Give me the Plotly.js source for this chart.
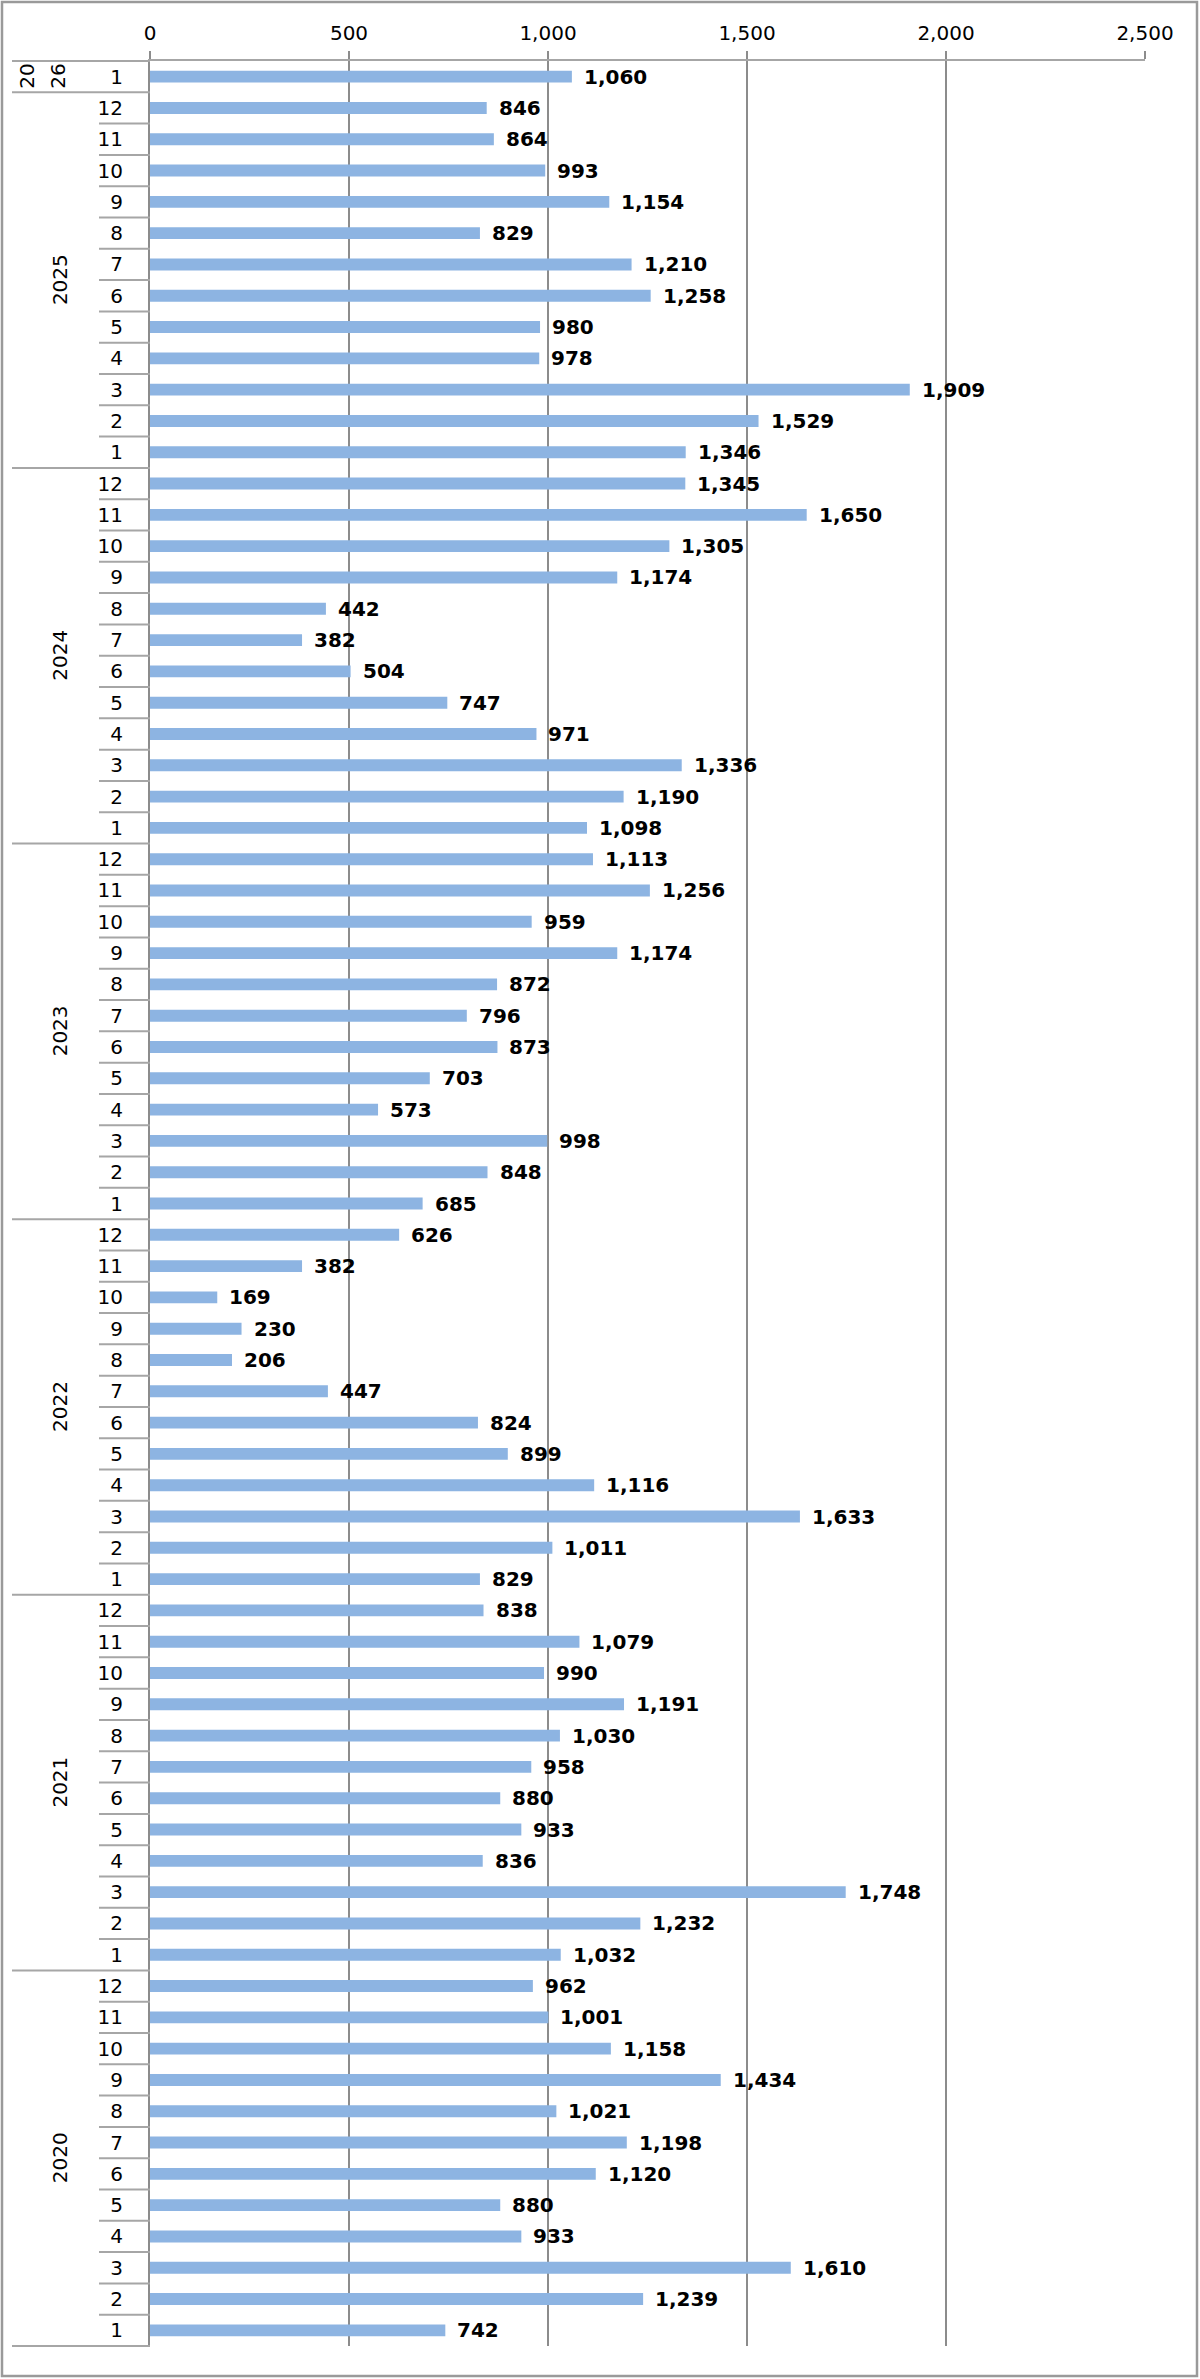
<!DOCTYPE html>
<html>
<head>
<meta charset="utf-8">
<script src="https://cdn.plot.ly/plotly-3.0.1.min.js"></script>
<style>
html,body{margin:0;padding:0;background:#fff;}
#chart{width:1200px;height:2379px;}
</style>
</head>
<body>
<div id="chart"></div>
<script>
// ---- data (values per month, January .. December) ----
const years = ['2026', '2025', '2024', '2023', '2022', '2021', '2020'];
const y2026 = [1060];
const y2025 = [1346, 1529, 1909, 978, 980, 1258, 1210, 829, 1154, 993, 864, 846];
const y2024 = [1098, 1190, 1336, 971, 747, 504, 382, 442, 1174, 1305, 1650, 1345];
const y2023 = [685, 848, 998, 573, 703, 873, 796, 872, 1174, 959, 1256, 1113];
const y2022 = [829, 1011, 1633, 1116, 899, 824, 447, 206, 230, 169, 382, 626];
const y2021 = [1032, 1232, 1748, 836, 933, 880, 958, 1030, 1191, 990, 1079, 838];
const y2020 = [742, 1239, 1610, 933, 880, 1120, 1198, 1021, 1434, 1158, 1001, 962];
const xTicks = [0, 500, 1000, 1500, 2000, 2500];

const series = [y2026, y2025, y2024, y2023, y2022, y2021, y2020];

// ---- build rows (top to bottom: newest month first) ----
const ys = [], xs = [], tickText = [], groups = [];
let idx = 0;
series.forEach((arr, g) => {
  const start = idx;
  for (let m = arr.length; m >= 1; m--) {
    ys.push(idx);
    xs.push(arr[m - 1]);
    tickText.push(String(m));
    idx++;
  }
  groups.push({year: years[g], start: start, end: idx - 1});
});
const N = idx;

// ---- geometry helpers ----
const W = 1200, H = 2379;
const mL = 150, mR = 55, mT = 61, mB = 33;
const pw = W - mL - mR, ph = H - mT - mB;
const px2paperX = p => (p - mL) / pw;
const py2paperY = p => (H - mB - p) / ph;
const row2paperY = r => (N - 0.5 - r) / N;

const sepColor = '#a6a6a6';
const font = 'DejaVu Sans, Verdana, sans-serif';

const shapes = [];
const annotations = [];

// outer border
shapes.push({type: 'rect', xref: 'paper', yref: 'paper',
  x0: px2paperX(2), x1: px2paperX(1197), y0: py2paperY(2376), y1: py2paperY(2),
  line: {color: '#9a9a9a', width: 2.5}, fillcolor: 'rgba(0,0,0,0)'});

function yearLabel(text, xpx, yc) {
  annotations.push({xref: 'paper', yref: 'paper', x: px2paperX(xpx), y: yc,
    xanchor: 'center', yanchor: 'middle',
    text: text, textangle: -90, showarrow: false,
    font: {family: font, size: 20, color: '#000'}});
}

groups.forEach(gr => {
  // year separator at top of the group
  shapes.push({type: 'line', xref: 'paper', yref: 'paper',
    x0: px2paperX(12), x1: px2paperX(150), y0: row2paperY(gr.start - 0.5), y1: row2paperY(gr.start - 0.5),
    line: {color: sepColor, width: 2}});
  // month separators
  for (let r = gr.start; r < gr.end; r++) {
    shapes.push({type: 'line', xref: 'paper', yref: 'paper',
      x0: px2paperX(99), x1: px2paperX(150), y0: row2paperY(r + 0.5), y1: row2paperY(r + 0.5),
      line: {color: sepColor, width: 2}});
  }
  // year labels
  const yc = row2paperY((gr.start + gr.end) / 2);
  if (gr.end - gr.start < 2) {
    yearLabel(gr.year.slice(0, 2), 27, yc);
    yearLabel(gr.year.slice(2), 58, yc);
  } else {
    yearLabel(gr.year, 60, yc);
  }
});
// bottom separator
shapes.push({type: 'line', xref: 'paper', yref: 'paper',
  x0: px2paperX(12), x1: px2paperX(150), y0: row2paperY(N - 0.5), y1: row2paperY(N - 0.5),
  line: {color: sepColor, width: 2}});

// value labels
xs.forEach((v, i) => {
  annotations.push({xref: 'x', yref: 'y', x: v, y: ys[i], xanchor: 'left', yanchor: 'middle',
    xshift: 10, showarrow: false, text: '<b>' + v.toLocaleString('en-US') + '</b>',
    font: {family: font, size: 20, color: '#000'}});
});

const trace = {
  type: 'bar', orientation: 'h', x: xs, y: ys,
  marker: {color: '#8DB4E2', line: {width: 0}},
  hoverinfo: 'x'
};

const layout = {
  width: W, height: H,
  margin: {l: mL, r: mR, t: mT, b: mB, pad: 0},
  paper_bgcolor: '#fff', plot_bgcolor: '#fff',
  showlegend: false,
  bargap: 0.62,
  font: {family: font, size: 20, color: '#000'},
  xaxis: {
    side: 'top', range: [0, 2500], tickvals: xTicks,
    ticktext: xTicks.map(v => v.toLocaleString('en-US')),
    showgrid: true, gridcolor: '#8c8c8c', gridwidth: 2,
    showline: true, linecolor: sepColor, linewidth: 2,
    ticks: 'outside', ticklen: 8, tickwidth: 2, tickcolor: '#8c8c8c',
    ticklabelstandoff: 3,
    zeroline: false, fixedrange: true,
    tickfont: {family: font, size: 20, color: '#000'}
  },
  yaxis: {
    range: [N - 0.5, -0.5], tickvals: ys, ticktext: tickText,
    showgrid: false, zeroline: false,
    showline: true, linecolor: '#8c8c8c', linewidth: 2,
    ticks: '', ticklabelstandoff: 21, fixedrange: true,
    tickfont: {family: font, size: 20, color: '#000'}
  },
  shapes: shapes,
  annotations: annotations
};

Plotly.newPlot('chart', [trace], layout, {displayModeBar: false, staticPlot: true});
</script>
</body>
</html>
